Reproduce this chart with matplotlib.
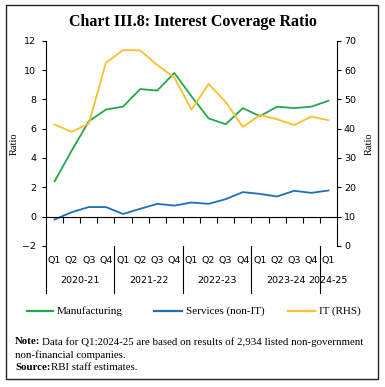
import numpy as np
import matplotlib
matplotlib.use("Agg")
import matplotlib.pyplot as plt
from matplotlib.patches import Rectangle

quarters = ["Q1", "Q2", "Q3", "Q4"] * 4 + ["Q1"]
years = ["2020-21", "2021-22", "2022-23", "2023-24", "2024-25"]
manufacturing = [2.4, 4.5, 6.5, 7.3, 7.5, 8.7, 8.6, 9.8, 8.2, 6.7, 6.3, 7.4, 6.85, 7.5, 7.4, 7.5, 7.9]
services = [-0.2, 0.3, 0.65, 0.65, 0.18, 0.53, 0.87, 0.75, 0.96, 0.87, 1.19, 1.67, 1.55, 1.37, 1.76, 1.62, 1.78]
it_rhs = [41.4, 38.9, 41.7, 62.5, 66.8, 66.7, 61.7, 57.4, 46.5, 55.2, 49.1, 40.6, 44.6, 43.2, 41.2, 44.1, 42.9]

green = "#22a84a"
blue = "#1d6fb8"
yellow = "#fdbf2d"
serif = "Liberation Serif"
sans = "DejaVu Sans"

fig = plt.figure(figsize=(3.85, 3.87), dpi=100)
fig.patches.append(Rectangle((6 / 385, 1 - 379 / 387), 372 / 385, 374 / 387,
                             transform=fig.transFigure, fill=False, lw=1.0, ec="#222222"))
fig.text(0.5, 1 - 22 / 387, "Chart III.8: Interest Coverage Ratio", ha="center", va="center",
         fontsize=11.5, fontweight="bold", family=serif)

ax = fig.add_axes([46 / 385, 1 - 245.9 / 387, (337 - 46) / 385, (245.9 - 40.7) / 387])
x = np.arange(len(quarters))
ax.plot(x, manufacturing, color=green, lw=1.3)
ax.plot(x, services, color=blue, lw=1.3)
ax.set_xlim(-0.5, len(quarters) - 0.5)
ax.set_ylim(-2, 12)
ax.set_yticks(range(-2, 13, 2))
ax.tick_params(axis="y", labelsize=6.8, length=3, pad=4)
for lab in ax.get_yticklabels():
    lab.set_family(sans)
ax.set_ylabel("Ratio", family=serif, fontsize=7.5)
ax.yaxis.set_label_coords(-0.093, 0.5)
ax.spines["top"].set_visible(False)
ax.spines["right"].set_visible(False)
ax.spines["bottom"].set_position(("data", 0))
ax.set_xticks(np.arange(0.5, len(quarters) - 1, 1))
ax.set_xticklabels([])
ax.tick_params(axis="x", direction="out", length=4, top=False)

ax2 = ax.twinx()
ax2.plot(x, it_rhs, color=yellow, lw=1.3)
ax2.set_ylim(0, 70)
ax2.set_yticks(range(0, 71, 10))
ax2.tick_params(axis="y", labelsize=6.8, length=3, pad=2)
for lab in ax2.get_yticklabels():
    lab.set_family(sans)
ax2.set_ylabel("Ratio", family=serif, fontsize=7.5)
ax2.yaxis.set_label_coords(1.096, 0.5)
for s in ["top", "bottom", "left"]:
    ax2.spines[s].set_visible(False)

# category labels below the plot
trans = ax.get_xaxis_transform()
for i, q in enumerate(quarters):
    ax.text(i, -0.072, q, transform=trans, ha="center", va="center", fontsize=6.8, family=sans)
starts = [0, 4, 8, 12, 16]
ends = [4, 8, 12, 16, 17]
for yr, s, e in zip(years, starts, ends):
    ax.text((s + e - 1) / 2, -0.17, yr, transform=trans, ha="center", va="center", fontsize=6.8, family=sans)
for b in [-0.5, 3.5, 7.5, 11.5, 15.5]:
    ax.plot([b, b], [0, -0.23], transform=trans, color="black", lw=0.8, clip_on=False)

# legend
ly = 1 - 310.7 / 387
items = [(27, 53, green, "Manufacturing"), (154, 182, blue, "Services (non-IT)"), (288, 315, yellow, "IT (RHS)")]
for x0, x1, c, t in items:
    fig.add_artist(plt.Line2D([x0 / 385, x1 / 385], [ly, ly], color=c, lw=1.6, transform=fig.transFigure))
    fig.text((x1 + 4) / 385, ly, t, va="center", ha="left", fontsize=8, family=serif)

# notes
fs = 7.8
fig.text(15 / 385, 1 - 341.7 / 387, "Note:", fontsize=fs, family=serif, va="center", fontweight="bold")
fig.text(42.5 / 385, 1 - 341.7 / 387,
         "Data for Q1:2024-25 are based on results of 2,934 listed non-government",
         fontsize=fs, family=serif, va="center")
fig.text(15 / 385, 1 - 355 / 387, "non-financial companies.", fontsize=fs, family=serif, va="center")
fig.text(15 / 385, 1 - 368 / 387, "Source:", fontsize=fs, family=serif, va="center", fontweight="bold")
fig.text(51 / 385, 1 - 368 / 387, "RBI staff estimates.", fontsize=fs, family=serif, va="center")

fig.savefig("out.png", dpi=100)
